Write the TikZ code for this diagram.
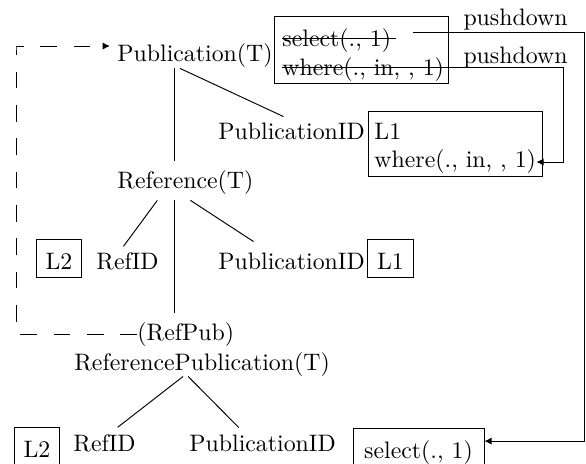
\documentclass[tikz,border=0pt]{standalone}
\usepackage{amsmath}
\usepackage{tikz}
\usetikzlibrary{arrows.meta}

\tikzset{
   txt/.style={inner sep=0pt, anchor=base west},
   lbox/.style={draw, anchor=base, inner xsep=4pt, inner ysep=3.4pt, text height=9.2pt, text depth=0pt},
   opbox/.style={draw, anchor=north west, inner sep=0pt, minimum width=73.1pt},
   push/.style={-{Latex[length=3pt,width=3pt]}},
   backref/.style={dash pattern=on 7pt off 7pt, -{Latex[length=3pt,width=3pt]}}
}

\begin{document}
\begin{tikzpicture}[x=0.42pt, y=-0.42pt]
   \useasboundingbox (0,0) rectangle (586,464);

   \coordinate (trunk) at (174,0);
   \coordinate (railL) at (16,46);
   \coordinate (railA) at (584,0);
   \coordinate (railB) at (563,0);

   \node[opbox, minimum height=28.1pt] (ops) at (274,16) {};
   \node[opbox, minimum height=27.3pt] (kept) at (368,111) {};

   \node[txt] (pub) at (117,62) {Publication(T)};
   \node[txt] (sel) at (282,47) {select(., 1)};
   \node[txt] (wh) at (282,76) {where(., in, , 1)};
   \node[anchor=base, inner sep=0pt] (pdone) at (515.5,26) {pushdown};
   \node[anchor=base, inner sep=0pt] (pdtwo) at (515.5,64) {pushdown};
   \node[txt] (pubid) at (218,140) {PublicationID};
   \node[txt] (lone) at (374,140) {L1};
   \node[txt] (whtwo) at (374,168) {where(., in, , 1)};
   \node[txt] (ref) at (117,188) {Reference(T)};
   \node[lbox] (ltwo) at (59,269) {L2};
   \node[txt] (refid) at (96,269) {RefID};
   \node[txt] (pubidb) at (218,269) {PublicationID};
   \node[lbox] (loneb) at (390.5,269) {L1};
   \node[txt] (refpub) at (137,340) {(RefPub)};
   \node[txt] (rprel) at (74,370) {ReferencePublication(T)};
   \node[lbox] (ltwob) at (37,457) {L2};
   \node[txt] (refidb) at (73,451) {RefID};
   \node[txt] (pubidc) at (189,451) {PublicationID};
   \node[lbox, minimum width=55pt] (selbox) at (418.5,458) {select(., 1)};

   \draw ([yshift=0.9pt]sel.west) -- ([xshift=2pt,yshift=0.9pt]sel.east);
   \draw ([yshift=0.9pt]wh.west) -- ([yshift=0.9pt]wh.east);

   \draw (pub.south -| trunk) -- ([yshift=3.8pt]ref.north -| trunk);
   \draw ([xshift=-6.3pt]pub.south) -- ([xshift=-3.4pt,yshift=2.7pt]pubid.north);
   \draw ([yshift=-2.5pt]ref.south -| trunk) -- ([yshift=3.8pt]refpub.north -| trunk);
   \draw ([xshift=-11.8pt,yshift=-2.5pt]ref.south) -- ([xshift=-1.7pt,yshift=2.3pt]refid.north);
   \draw ([xshift=2.1pt,yshift=-2.5pt]ref.south) -- ([xshift=-16pt,yshift=4.4pt]pubidb.north);
   \draw ([xshift=-8pt]rprel.south) -- ([xshift=5.5pt,yshift=2.7pt]refidb.north);
   \draw ([xshift=-5.9pt]rprel.south) -- ([xshift=-10pt,yshift=2.7pt]pubidc.north);

   \draw[push] ([xshift=9.2pt,yshift=3.8pt]sel.east) -| ([yshift=2.5pt]selbox.east -| railA) -- ([yshift=2.5pt]selbox.east);
   \draw[push] ([yshift=0.9pt]wh.east) -| (whtwo.east -| railB) -- (whtwo.east);

   \draw[backref] (refpub.west) -| (railL) |- ([xshift=-3pt,yshift=4.2pt]pub.west);
\end{tikzpicture}
\end{document}
